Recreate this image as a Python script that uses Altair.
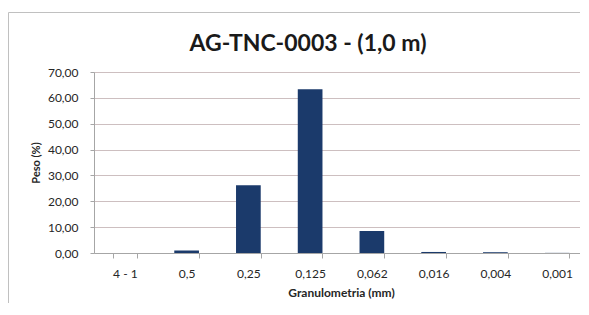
import altair as alt
import pandas as pd

categories = ["4 - 1", "0,5", "0,25", "0,125", "0,062", "0,016", "0,004", "0,001"]
peso = [0.0, 1.0, 26.2, 63.3, 8.5, 0.4, 0.3, 0.05]
chart_title = "AG-TNC-0003 - (1,0 m)"

df = pd.DataFrame({"cat": categories, "peso": peso})

FONT = "Lato"
TXT = "#262626"

bars = alt.Chart(df).mark_bar(color="#1b3a6b").encode(
    x=alt.X(
        "cat:N",
        sort=categories,
        title="Granulometria (mm)",
        scale=alt.Scale(paddingInner=0.6, paddingOuter=0.3),
        axis=alt.Axis(
            labelAngle=0,
            tickBand="extent",
            tickSize=5,
            tickColor="#a6a6a6",
            domainColor="#a6a6a6",
            labelFont=FONT,
            labelFontSize=12,
            labelColor=TXT,
            labelPadding=10,
            titleFont=FONT,
            titleFontSize=12,
            titleFontWeight="bold",
            titleColor=TXT,
            titlePadding=8,
        ),
    ),
    y=alt.Y(
        "peso:Q",
        title="Peso (%)",
        scale=alt.Scale(domain=[0, 70]),
        axis=alt.Axis(
            values=[0, 10, 20, 30, 40, 50, 60, 70],
            labelExpr="replace(format(datum.value, '.2f'), '.', ',')",
            tickSize=4,
            tickColor="#a6a6a6",
            domainColor="#a6a6a6",
            gridColor="#cdbfc0",
            labelFont=FONT,
            labelFontSize=12,
            labelColor=TXT,
            labelPadding=12,
            titleFont=FONT,
            titleFontSize=11,
            titleFontWeight="bold",
            titleColor=TXT,
            titlePadding=6,
        ),
    ),
)

one = alt.Data(values=[{"k": 0}])
left_border = alt.Chart(one).mark_rule(color="#c0c0c0", strokeWidth=1).encode(
    x=alt.value(-85.5), y=alt.value(-59.5), y2=alt.value(300)
)
top_border = alt.Chart(one).mark_rule(color="#c0c0c0", strokeWidth=1).encode(
    x=alt.value(-85.5), x2=alt.value(520), y=alt.value(-59.5)
)
title_text = alt.Chart(one).mark_text(
    font=FONT, fontSize=23, fontWeight="bold", color="#1a1a1a",
    align="center", baseline="alphabetic",
).encode(
    x=alt.value(214), y=alt.value(-21), text=alt.value(chart_title)
)

chart = alt.layer(bars, left_border, top_border, title_text).properties(
    width=494,
    height=181,
    padding={"left": 86, "top": 64, "right": -8, "bottom": 50},
    autosize=alt.AutoSizeParams(type="none"),
).configure_view(strokeWidth=0).configure(background="white")

chart.save("out.html", embed_options={"renderer": "svg", "actions": False})
